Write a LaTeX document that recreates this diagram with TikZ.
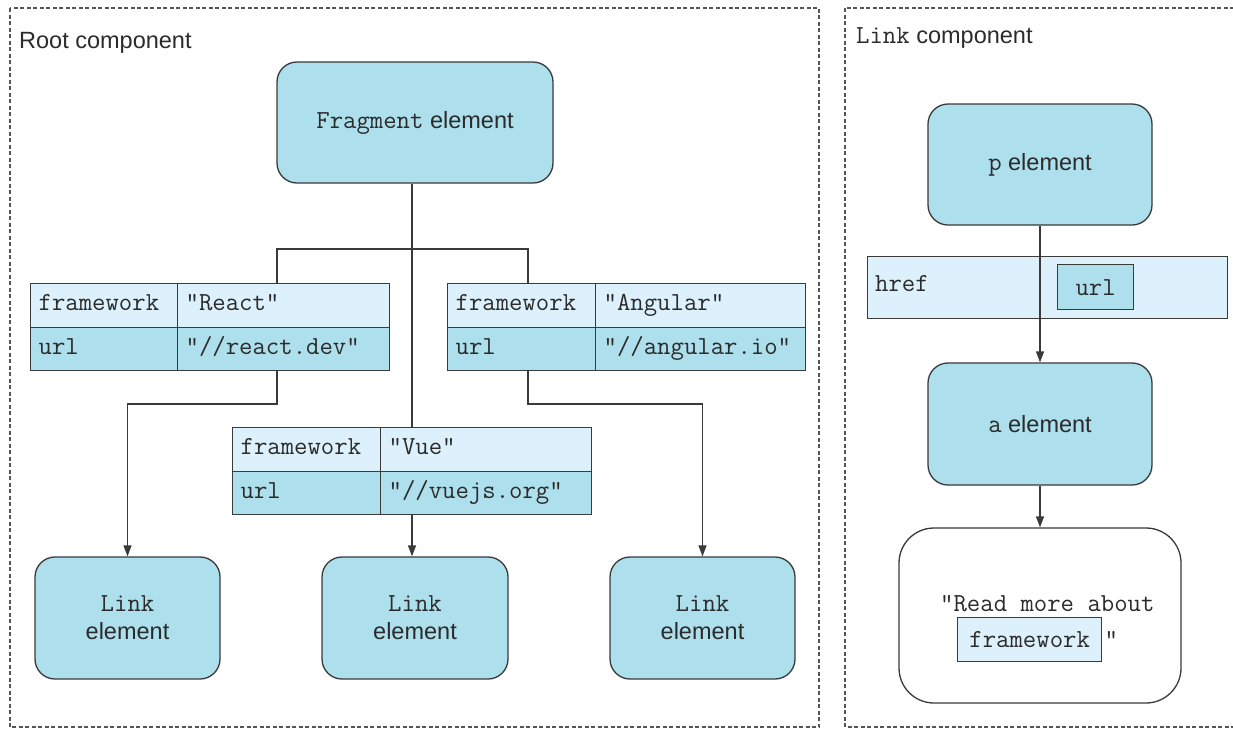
\documentclass[tikz,border=0pt]{standalone}
\usepackage{fontspec}
\setmainfont{Liberation Sans}
\usetikzlibrary{arrows.meta}
\definecolor{boxfill}{HTML}{ADDFED}
\definecolor{rowlight}{HTML}{DCF1FB}
\definecolor{linec}{HTML}{3A3A3A}
\definecolor{framec}{HTML}{555555}
\definecolor{txt}{HTML}{2B2B2B}
\newcommand{\bodyfont}{\fontsize{23.5}{28}\selectfont}
\newcommand{\mono}{\ttfamily\fontsize{26}{28}\selectfont}
\tikzset{
  every node/.style={text=txt, font=\bodyfont},
  frame/.style={draw=framec, line width=1.2pt, dash pattern=on 4pt off 2.5pt},
  elbox/.style={draw=linec, fill=boxfill, line width=1.3pt, rounded corners=20pt, align=center},
  tcell/.style={draw=linec, line width=1.3pt, text width=#1, inner xsep=8pt, inner ysep=0pt,
     minimum height=43.5pt, anchor=north west, align=left, font=\mono,
     text height=15pt, text depth=4pt},
  lrow/.style={fill=rowlight},
  drow/.style={fill=boxfill},
  conn/.style={draw=linec, line width=1.3pt},
  arr/.style={conn, -{Triangle[length=11pt,width=8pt]}},
}
\begin{document}
\begin{tikzpicture}[x=1pt,y=-1pt]
\useasboundingbox (0,0) rectangle (1233,729);
\clip (0,0) rectangle (1233,729);
\fill[white] (0,0) rectangle (1233,729);

% frames
\draw[frame] (10,8) rectangle (819,727);
\draw[frame] (845,8) rectangle (1250,727);
\node[anchor=base west, inner sep=0pt] (rootlbl) at (19,48) {Root component};
\node[anchor=base west, inner sep=0pt] (linklbl) at (856,43) {{\mono Link} component};

% root component
\node[elbox, minimum width=276pt, minimum height=121pt] (frag) at (415,122.5) {{\mono Fragment} element};

% React table
\node[tcell=131pt, lrow] (r11) at (30,283) {framework};
\node[tcell=196pt, lrow] (r12) at (177,283) {"React"};
\node[tcell=131pt, drow] (r21) at (30,326.5) {url};
\node[tcell=196pt, drow] (r22) at (177,326.5) {"//react.dev"};

% Angular table
\node[tcell=132pt, lrow] (a11) at (447,283) {framework};
\node[tcell=194pt, lrow] (a12) at (595,283) {"Angular"};
\node[tcell=132pt, drow] (a21) at (447,326.5) {url};
\node[tcell=194pt, drow] (a22) at (595,326.5) {"//angular.io"};

% Vue table
\node[tcell=132pt, lrow] (v11) at (232,427) {framework};
\node[tcell=195pt, lrow] (v12) at (380,427) {"Vue"};
\node[tcell=132pt, drow] (v21) at (232,470.5) {url};
\node[tcell=195pt, drow] (v22) at (380,470.5) {"//vuejs.org"};

% Link elements
\node[elbox, minimum width=185pt, minimum height=122pt] (link1) at (127.5,618) {{\mono Link}\\element};
\node[elbox, minimum width=186pt, minimum height=122pt] (link2) at (415,618) {{\mono Link}\\element};
\node[elbox, minimum width=185pt, minimum height=122pt] (link3) at (702.5,618) {{\mono Link}\\element};

% connectors in root component
\coordinate (cj) at (412,249);
\coordinate (rj) at (277,249);
\coordinate (aj) at (528,249);
\coordinate (rk) at (277,404);
\coordinate (ak) at (528,404);
\draw[conn] (frag.south -| cj) -- (cj |- v11.north);
\draw[conn] (rj |- r12.north) -- (rj) -- (aj) -- (aj |- a11.north);
\draw[arr] (rj |- r22.south) -- (rk) -| (link1.north);
\draw[arr] (cj |- v22.south) -- (cj |- link2.north);
\draw[arr] (aj |- a21.south) -- (ak) -| (link3.north);

% Link component
\node[elbox, minimum width=224pt, minimum height=121pt] (pel) at (1040,164.5) {{\mono p} element};
\node[draw=linec, line width=1.3pt, fill=rowlight, minimum width=360pt, minimum height=62pt, anchor=north west, inner sep=0pt] (hrefrow) at (867,256) {};
\node[anchor=base west, inner sep=0pt, font=\mono] (hreftxt) at (875,291) {href};
\node[draw=linec, line width=1.3pt, fill=boxfill, minimum width=76pt, minimum height=45pt, anchor=north west, inner sep=0pt, font=\mono] (urlbox) at (1057,264) {url};
\node[elbox, minimum width=224pt, minimum height=122pt] (ael) at (1040,424) {{\mono a} element};
\node[draw=linec, line width=1.3pt, rounded corners=35pt, minimum width=282pt, minimum height=175pt] (textel) at (1040,615.5) {};
\node[anchor=base west, inner sep=0pt, font=\mono] (readmore) at (940,611) {"Read more about};
\node[draw=linec, line width=1.3pt, fill=rowlight, minimum width=144pt, minimum height=44pt, anchor=north west, inner sep=0pt, font=\mono] (fw) at (957,617) {framework};
\node[anchor=west, inner sep=2pt, font=\mono] (quote) at (fw.east) {"};

\draw[arr] (pel.south) -- (ael.north);
\draw[arr] (ael.south) -- (textel.north);
\end{tikzpicture}
\end{document}
